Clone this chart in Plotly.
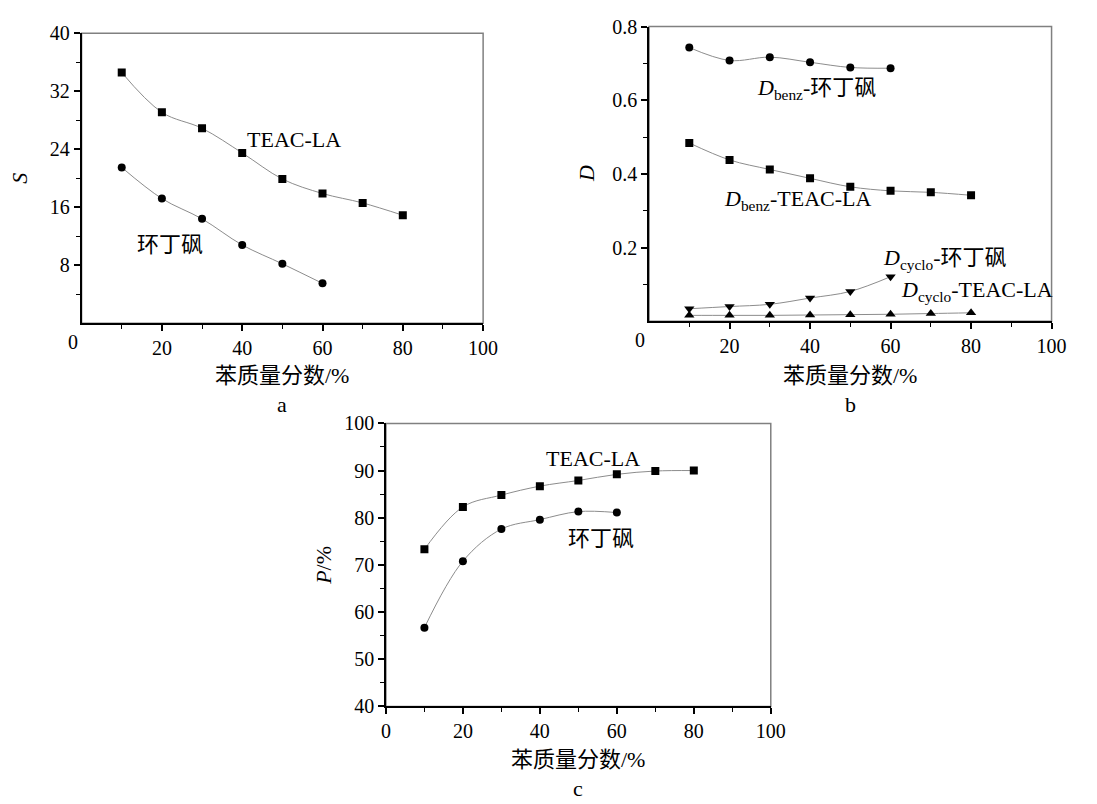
import plotly.graph_objects as go

# ---------------- data ----------------
x_teac = [10, 20, 30, 40, 50, 60, 70, 80]
x_sulf = [10, 20, 30, 40, 50, 60]

# panel a: selectivity S
S_teac = [34.6, 29.1, 26.9, 23.5, 19.9, 17.9, 16.6, 14.9]
S_sulf = [21.5, 17.2, 14.4, 10.8, 8.2, 5.5]

# panel b: distribution coefficient D
Dbenz_sulf = [0.743, 0.708, 0.717, 0.703, 0.689, 0.687]
Dbenz_teac = [0.484, 0.438, 0.412, 0.388, 0.365, 0.354, 0.350, 0.342]
Dcyclo_sulf = [0.034, 0.040, 0.046, 0.063, 0.081, 0.121]
Dcyclo_teac = [0.016, 0.016, 0.016, 0.017, 0.018, 0.019, 0.021, 0.023]

# panel c: performance P/%
P_teac = [73.3, 82.3, 84.8, 86.7, 87.9, 89.2, 89.9, 90.0]
P_sulf = [56.7, 70.8, 77.6, 79.6, 81.3, 81.1]

x_title = "苯质量分数/%"
FONT = "Liberation Serif, Times New Roman, Noto Sans CJK SC, serif"
LINE_C = "#8c8c8c"
TICK_SIZE = 20
LABEL_SIZE = 22

fig = go.Figure()


def add_series(x, y, symbol, xa, ya, size=8):
    fig.add_trace(go.Scatter(
        x=x, y=y, mode="lines+markers", xaxis=xa, yaxis=ya,
        line=dict(color=LINE_C, width=1, shape="spline", smoothing=1.0),
        marker=dict(symbol=symbol, size=size, color="black"),
        showlegend=False, hoverinfo="skip"))


add_series(x_teac, S_teac, "square", "x", "y")
add_series(x_sulf, S_sulf, "circle", "x", "y")

add_series(x_sulf, Dbenz_sulf, "circle", "x2", "y2")
add_series(x_teac, Dbenz_teac, "square", "x2", "y2")
add_series(x_sulf, Dcyclo_sulf, "triangle-down", "x2", "y2", 9)
add_series(x_teac, Dcyclo_teac, "triangle-up", "x2", "y2", 9)

add_series(x_teac, P_teac, "square", "x3", "y3")
add_series(x_sulf, P_sulf, "circle", "x3", "y3")

W, H = 1097, 804


def dom_x(a, b):
    return [a / W, b / W]


def dom_y(top, bottom):
    return [1 - bottom / H, 1 - top / H]


def xaxis(domain, anchor, showzero=True):
    vals = [0, 20, 40, 60, 80, 100] if showzero else [20, 40, 60, 80, 100]
    return dict(domain=domain, anchor=anchor, range=[0, 100],
                tickvals=vals, ticktext=[str(v) for v in vals],
                ticks="outside", ticklen=6, tickwidth=1.5, tickcolor="black",
                minor=dict(tickvals=[10, 30, 50, 70, 90], ticks="outside",
                           ticklen=4, tickwidth=1.2, tickcolor="black"),
                showline=True, linecolor="black", linewidth=1.5,
                showgrid=False, zeroline=False,
                tickfont=dict(family=FONT, size=TICK_SIZE, color="black"))


def yaxis(domain, anchor, rng, vals, text, minor_vals):
    return dict(domain=domain, anchor=anchor, range=rng,
                tickvals=vals, ticktext=text,
                ticks="outside", ticklen=6, tickwidth=1.5, tickcolor="black",
                minor=dict(tickvals=minor_vals, ticks="outside",
                           ticklen=4, tickwidth=1.2, tickcolor="black"),
                showline=True, linecolor="black", linewidth=1.5,
                showgrid=False, zeroline=False,
                tickfont=dict(family=FONT, size=TICK_SIZE, color="black"))


fig.update_layout(
    width=W, height=H,
    margin=dict(l=0, r=0, t=0, b=0),
    paper_bgcolor="white", plot_bgcolor="white",
    font=dict(family=FONT, size=TICK_SIZE, color="black"),
    xaxis=xaxis(dom_x(78, 487), "y", showzero=False),
    yaxis=yaxis(dom_y(23, 321), "x", [0, 40], [8, 16, 24, 32, 40],
                ["8", "16", "24", "32", "40"], [4, 12, 20, 28, 36]),
    xaxis2=xaxis(dom_x(656, 1066), "y2", showzero=False),
    yaxis2=yaxis(dom_y(16, 319), "x2", [0, 0.8], [0.2, 0.4, 0.6, 0.8],
                 ["0.2", "0.4", "0.6", "0.8"], [0.1, 0.3, 0.5, 0.7]),
    xaxis3=xaxis(dom_x(388, 780), "y3"),
    yaxis3=yaxis(dom_y(424, 715), "x3", [40, 100],
                 [40, 50, 60, 70, 80, 90, 100],
                 ["40", "50", "60", "70", "80", "90", "100"],
                 [45, 55, 65, 75, 85, 95]),
)

# gray frame (top / right borders)
for xs, ys in [("x", "y"), ("x2", "y2"), ("x3", "y3")]:
    fig.add_shape(type="rect", xref=f"{xs} domain", yref=f"{ys} domain",
                  x0=0, x1=1, y0=0, y1=1, layer="below",
                  line=dict(color="#808080", width=1.5))

ann = []
F = dict(family=FONT, size=LABEL_SIZE, color="black")

# shifted "0" corner labels of panels a and b
for xs, ys in [("x", "y"), ("x2", "y2")]:
    ann.append(dict(text="0", xref=f"{xs} domain", yref=f"{ys} domain",
                    x=0, y=0, xshift=-16, yshift=-19, yanchor="middle",
                    showarrow=False,
                    font=dict(family=FONT, size=TICK_SIZE, color="black")))

# axis titles
for xs, ys, ytitle, shift in [("x", "y", "<i>S</i>", -52),
                              ("x2", "y2", "<i>D</i>", -54),
                              ("x3", "y3", "<i>P</i>/%", -53)]:
    ann.append(dict(text=x_title, xref=f"{xs} domain", yref=f"{ys} domain",
                    x=0.5, y=0, yshift=shift, yanchor="middle",
                    showarrow=False, font=F))
    ann.append(dict(text=ytitle, xref=f"{xs} domain", yref=f"{ys} domain",
                    x=0, y=0.5, xshift=-62, xanchor="center", yanchor="middle",
                    textangle=-90, showarrow=False, font=F))

# panel letters
for xs, ys, letter, shift in [("x", "y", "a", -81), ("x2", "y2", "b", -83),
                              ("x3", "y3", "c", -82)]:
    ann.append(dict(text=letter, xref=f"{xs} domain", yref=f"{ys} domain",
                    x=0.5, y=0, yshift=shift, yanchor="middle",
                    showarrow=False, font=F))

# series labels
ann += [
    dict(text="TEAC-LA", xref="x", yref="y", x=52.8, y=25.3, showarrow=False, font=F),
    dict(text="环丁砜", xref="x", yref="y", x=21.9, y=10.8, showarrow=False, font=F),
    dict(text="<i>D</i><sub>benz</sub>-环丁砜", xref="x2", yref="y2", x=26.2, y=0.631,
         xanchor="left", showarrow=False, font=F),
    dict(text="<i>D</i><sub>benz</sub>-TEAC-LA", xref="x2", yref="y2", x=18.1, y=0.328,
         xanchor="left", showarrow=False, font=F),
    dict(text="<i>D</i><sub>cyclo</sub>-环丁砜", xref="x2", yref="y2", x=57.6, y=0.170,
         xanchor="left", showarrow=False, font=F),
    dict(text="<i>D</i><sub>cyclo</sub>-TEAC-LA", xref="x2", yref="y2", x=62.0, y=0.083,
         xanchor="left", showarrow=False, font=F),
    dict(text="TEAC-LA", xref="x3", yref="y3", x=53.8, y=92.6, showarrow=False, font=F),
    dict(text="环丁砜", xref="x3", yref="y3", x=55.8, y=75.5, showarrow=False, font=F),
]
fig.update_layout(annotations=ann)

fig.write_html("out.html",
               config={"displayModeBar": False},
               post_script="document.body.style.margin='0px';"
                           "document.body.style.overflow='hidden';")
